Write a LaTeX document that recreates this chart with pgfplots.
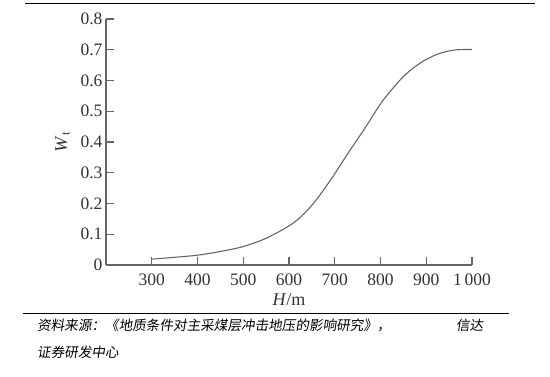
\documentclass[border=0pt]{standalone}
\usepackage{pgfplots}
\pgfplotsset{compat=1.18}
\usepackage{fontspec}
\setmainfont{Liberation Serif}
\newfontfamily\cjk[FakeSlant=0.15]{Noto Sans CJK SC}
\definecolor{axgray}{HTML}{666666}
\definecolor{txtgray}{HTML}{333333}
\begin{document}
\begin{tikzpicture}[x=1pt,y=1pt]
\path[use as bounding box] (0,0) rectangle (550,-376);
\draw[line width=1.6pt] (25,-3.5) -- (535,-3.5);
\draw[line width=1.6pt] (23,-313.5) -- (509,-313.5);
\node[anchor=west, inner sep=0pt, font=\cjk\fontsize{13.6}{16}\selectfont] at (37,-325.5) {资料来源：《地质条件对主采煤层冲击地压的影响研究》，\hspace{4.8em}信达};
\node[anchor=west, inner sep=0pt, font=\cjk\fontsize{13.6}{16}\selectfont] at (37,-352) {证券研发中心};
\begin{axis}[
  at={(106pt,-265pt)}, anchor=south west,
  scale only axis, width=366pt, height=246pt,
  xmin=200, xmax=1000, ymin=0, ymax=0.8,
  axis lines*=left,
  axis line style={-, color=axgray, line width=1.1pt},
  every tick/.style={color=axgray, line width=1.1pt},
  tick align=inside, major tick length=8pt,
  xtick={300,400,500,600,700,800,900,1000},
  xticklabels={300,400,500,600,700,800,900,1\,000},
  ytick={0,0.1,0.2,0.3,0.4,0.5,0.6,0.7,0.8},
  yticklabels={0,0.1,0.2,0.3,0.4,0.5,0.6,0.7,0.8},
  tick label style={font=\fontsize{17.5}{20}\selectfont, color=txtgray},
  xticklabel style={yshift=-5pt},
  /pgf/number format/assume math mode=true,
  xlabel={\textit{H}/m},
  ylabel={\textit{W}\textsubscript{t}},
  label style={font=\fontsize{18}{20}\selectfont, color=txtgray},
  xlabel style={at={(axis description cs:0.5,0)}, anchor=north, yshift=-25pt},
  ylabel style={yshift=4pt},
  clip=false,
]
\addplot[color=axgray, line width=1.1pt, smooth] coordinates {
(300,0.019) (350,0.025) (400,0.032) (450,0.044) (500,0.060) (550,0.087)
(600,0.127) (626,0.157) (655,0.203) (692,0.279) (728,0.361) (765,0.443)
(801,0.526) (830,0.580) (855,0.620) (889,0.659) (925,0.686) (961,0.699) (1000,0.701)
};
\end{axis}
\end{tikzpicture}
\end{document}
